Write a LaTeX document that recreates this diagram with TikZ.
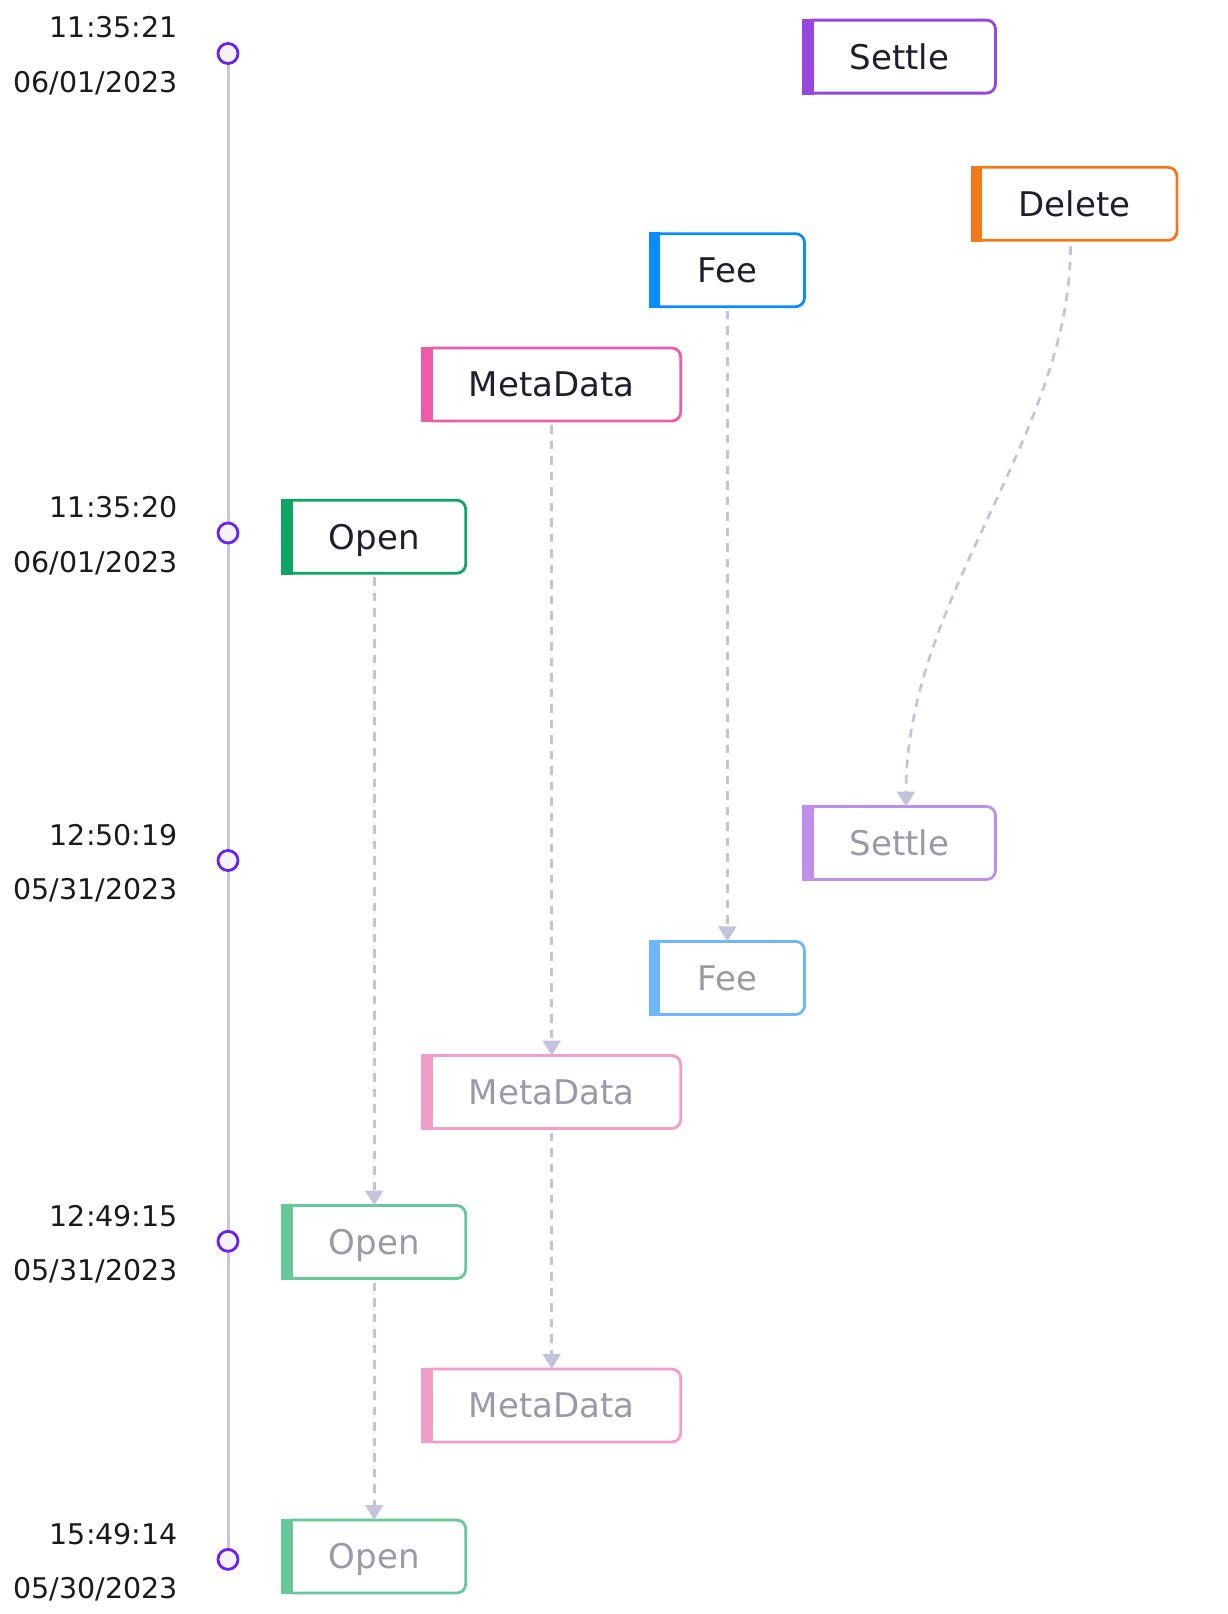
\documentclass[tikz,border=0pt]{standalone}
\usepackage{fontspec}
\setmainfont{DejaVu Sans}
\usetikzlibrary{arrows.meta}
\definecolor{cSettle}{HTML}{9747E0}
\definecolor{cSettleF}{HTML}{BE8EEA}
\definecolor{cDelete}{HTML}{F07A1A}
\definecolor{cFee}{HTML}{0A8CFF}
\definecolor{cFeeF}{HTML}{6CB8F8}
\definecolor{cMeta}{HTML}{EE5BA6}
\definecolor{cMetaF}{HTML}{F29CC9}
\definecolor{cOpen}{HTML}{0CA765}
\definecolor{cOpenF}{HTML}{66C79A}
\definecolor{cDark}{HTML}{1F1E2E}
\definecolor{cFaded}{HTML}{9A99A8}
\definecolor{cTime}{HTML}{1A1A1A}
\definecolor{cLine}{HTML}{C5C8DE}
\definecolor{cArrow}{HTML}{C3C4DA}
\definecolor{cDot}{HTML}{6B21F2}
\definecolor{cDotFill}{HTML}{F4F4F8}
\tikzset{
  evbox/.style={minimum width=#1, minimum height=73pt, inner sep=0pt, outer sep=0pt,
    font=\fontsize{34}{40}\selectfont, text height=24.8pt, text depth=0pt},
  live/.style={text=cDark},
  faded/.style={text=cFaded},
  dotmark/.style={circle, draw=cDot, fill=cDotFill, line width=2.8pt, minimum size=20pt, inner sep=0pt},
  timelab/.style={anchor=east, inner sep=0pt, text=cTime, font=\fontsize{28.5}{34}\selectfont, text height=20.8pt, text depth=0pt},
  tline/.style={draw=cLine, line width=3pt},
  flow/.style={draw=cArrow, line width=2.7pt, dash pattern=on 8.5pt off 7pt, -{Triangle[width=18pt,length=15pt]}},
}
\newcommand\evframe[2]{%
  \draw[#2, line width=2.8pt, rounded corners=9pt]
    ([xshift=8pt]#1.north west) -- (#1.north east) -- (#1.south east) -- ([xshift=8pt]#1.south west);
  \fill[#2] ([shift={(-1.4pt,1.4pt)}]#1.north west) rectangle ([shift={(10pt,-1.4pt)}]#1.south west);
}
\begin{document}
\begin{tikzpicture}[x=1pt,y=-1pt]
\useasboundingbox (0,0) rectangle (1227,1614);
% timeline
\coordinate (p1) at (228,53.5);
\coordinate (p2) at (228,533);
\coordinate (p3) at (228,860.5);
\coordinate (p4) at (228,1241.3);
\coordinate (p5) at (228,1559.4);
\draw[tline] (p1) -- (p5);
\node[dotmark] (d1) at (p1) {};
\node[dotmark] (d2) at (p2) {};
\node[dotmark] (d3) at (p3) {};
\node[dotmark] (d4) at (p4) {};
\node[dotmark] (d5) at (p5) {};
% time labels
\node[timelab] (tm1) at (178,27.5) {11:35:21};
\node[timelab] (dt1) at (178,82) {06/01/2023};
\node[timelab] (tm2) at (178,507.5) {11:35:20};
\node[timelab] (dt2) at (178,562) {06/01/2023};
\node[timelab] (tm3) at (178,834.8) {12:50:19};
\node[timelab] (dt3) at (178,889.3) {05/31/2023};
\node[timelab] (tm4) at (178,1215.6) {12:49:15};
\node[timelab] (dt4) at (178,1270.2) {05/31/2023};
\node[timelab] (tm5) at (178,1533.7) {15:49:14};
\node[timelab] (dt5) at (178,1588.2) {05/30/2023};
% event boxes
\node[evbox=192pt, live] (settleA) at (899.5,56.6) {Settle};
\evframe{settleA}{cSettle}
\node[evbox=205pt, live] (deleteA) at (1074.5,203.8) {Delete};
\evframe{deleteA}{cDelete}
\node[evbox=154.5pt, live] (feeA) at (727.3,270.2) {Fee};
\evframe{feeA}{cFee}
\node[evbox=258pt, live] (metaA) at (551.7,384.5) {MetaData};
\evframe{metaA}{cMeta}
\node[evbox=183pt, live] (openA) at (374.2,536.7) {Open};
\evframe{openA}{cOpen}
\node[evbox=192pt, faded] (settleB) at (899.5,843) {Settle};
\evframe{settleB}{cSettleF}
\node[evbox=154.5pt, faded] (feeB) at (727.3,977.9) {Fee};
\evframe{feeB}{cFeeF}
\node[evbox=258pt, faded] (metaB) at (551.7,1092) {MetaData};
\evframe{metaB}{cMetaF}
\node[evbox=183pt, faded] (openB) at (374.2,1242) {Open};
\evframe{openB}{cOpenF}
\node[evbox=258pt, faded] (metaC) at (551.7,1405.5) {MetaData};
\evframe{metaC}{cMetaF}
\node[evbox=183pt, faded] (openC) at (374.2,1556.5) {Open};
\evframe{openC}{cOpenF}
% connectors
\draw[flow] ([yshift=-4pt]feeA.south) -- (feeB.north);
\draw[flow] ([yshift=-4pt]metaA.south) -- (metaB.north);
\draw[flow] ([yshift=-4pt]metaB.south) -- (metaC.north);
\draw[flow] ([yshift=-4pt]openA.south) -- (openB.north);
\draw[flow] ([yshift=-4pt]openB.south) -- (openC.north);
\draw[flow] ([shift={(-4pt,-6pt)}]deleteA.south) .. controls +(0,190) and +(0,-210) .. ([xshift=6.5pt]settleB.north);
\end{tikzpicture}
\end{document}
